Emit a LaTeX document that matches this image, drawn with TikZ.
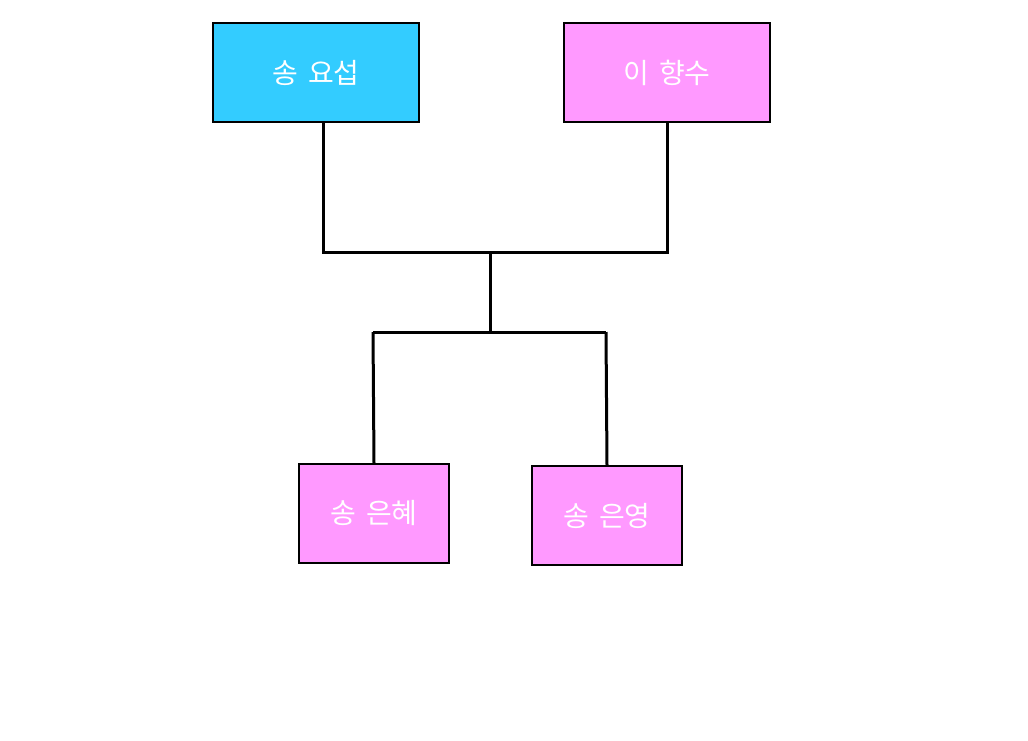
\documentclass[tikz,border=0pt]{standalone}
\usepackage{fontspec}
\newfontfamily\kr[WordSpace=1.6]{Noto Sans CJK KR}
\definecolor{cyanbox}{HTML}{33CCFF}
\definecolor{pinkbox}{HTML}{FF99FF}
\tikzset{
  person/.style={draw=black, line width=1.5pt, minimum height=99pt, text=white, font=\kr\fontsize{28}{32}\selectfont, inner sep=0pt},
  wide/.style={person, minimum width=206pt},
  narrow/.style={person, minimum width=150pt},
  link/.style={line width=3pt, black}
}
\begin{document}
\begin{tikzpicture}[x=1pt,y=-1pt]
\useasboundingbox (0,0) rectangle (1028,740);
\node[wide, fill=cyanbox] (yoseop) at (316,72.5) {송 요섭};
\node[wide, fill=pinkbox] (hyangsu) at (667,72.5) {이 향수};
\node[narrow, fill=pinkbox] (eunhye) at (374,513.5) {송 은혜};
\node[narrow, fill=pinkbox] (eunyeong) at (607,515.5) {송 은영};
\coordinate (lc) at (323,252);
\coordinate (rc) at (667,252);
\coordinate (mtop) at (490,254);
\coordinate (mbot) at (490,332);
\coordinate (bl) at (373,332);
\coordinate (br) at (606,332);
\draw[link] (yoseop.south -| lc) -- (lc) -- (rc) -- (hyangsu.south);
\draw[link] (mtop) -- (mbot);
\draw[link] (bl) -- (br);
\draw[link] (bl) -- (eunhye.north);
\draw[link] (br) -- (eunyeong.north);
\end{tikzpicture}
\end{document}
